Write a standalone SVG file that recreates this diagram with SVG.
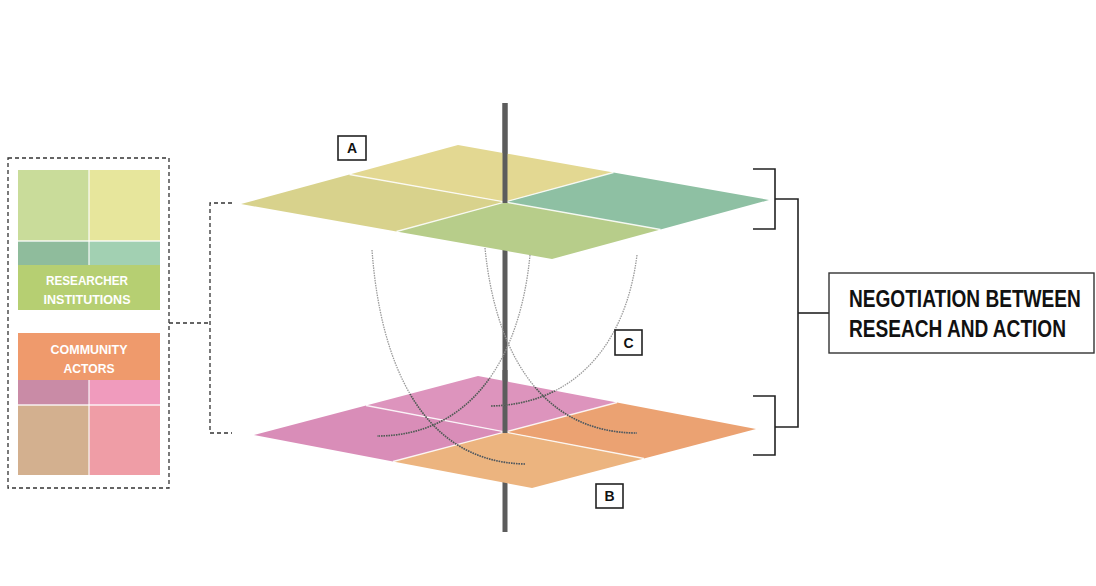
<svg xmlns="http://www.w3.org/2000/svg" width="1096" height="586" viewBox="0 0 1096 586">
<style>
.lbl{font-family:"Liberation Sans",Arial,sans-serif;font-weight:bold;}
.wt{fill:#ffffff;font-size:13px;}
.box{fill:#ffffff;stroke:#222;stroke-width:1.6;}
.let{fill:#111;font-size:14px;text-anchor:middle;}
.dash{fill:none;stroke:#333;stroke-width:1.3;stroke-dasharray:4 3;}
.br{fill:none;stroke:#222;stroke-width:1.6;}
.div{stroke:#ffffff;stroke-width:1.3;opacity:0.85;}
.pole{stroke:#5c5c5c;stroke-width:5;}
.crv{fill:none;stroke:#9a9a9a;stroke-width:1.3;stroke-dasharray:1.5 1;}
.crvd{fill:none;stroke:#555;stroke-width:1.6;stroke-dasharray:1.5 1;}
</style>
<defs>
<clipPath id="bottomClip"><polygon points="254,435 478,376 756,429 532,488"/></clipPath>
</defs>
<rect width="1096" height="586" fill="#ffffff"/>

<g id="legend">
<rect x="8" y="158" width="161" height="330" class="dash"/>
<g id="legend-research">
<rect x="18" y="170" width="71" height="71" fill="#c9dc9a"/>
<rect x="89" y="170" width="71" height="71" fill="#e7e69c"/>
<rect x="18" y="241" width="71" height="24" fill="#8fbc9c"/>
<rect x="89" y="241" width="71" height="24" fill="#a2d0b2"/>
<rect x="18" y="265" width="142" height="45" fill="#b6cf72"/>
<line x1="89" y1="170" x2="89" y2="265" class="div"/>
<line x1="18" y1="241" x2="160" y2="241" class="div"/>
<text x="87" y="285" class="lbl wt" text-anchor="middle" textLength="82" lengthAdjust="spacingAndGlyphs">RESEARCHER</text>
<text x="87" y="304" class="lbl wt" text-anchor="middle" textLength="87" lengthAdjust="spacingAndGlyphs">INSTITUTIONS</text>
</g>
<g id="legend-community">
<rect x="18" y="333" width="142" height="47" fill="#ef9a6c"/>
<rect x="18" y="380" width="71" height="25" fill="#c98ba6"/>
<rect x="89" y="380" width="71" height="25" fill="#f09bbd"/>
<rect x="18" y="405" width="71" height="70" fill="#d3b08f"/>
<rect x="89" y="405" width="71" height="70" fill="#ef9da6"/>
<line x1="89" y1="380" x2="89" y2="475" class="div"/>
<line x1="18" y1="405" x2="160" y2="405" class="div"/>
<text x="89" y="354" class="lbl wt" text-anchor="middle" textLength="77" lengthAdjust="spacingAndGlyphs">COMMUNITY</text>
<text x="89" y="373" class="lbl wt" text-anchor="middle" textLength="51" lengthAdjust="spacingAndGlyphs">ACTORS</text>
</g>
</g>

<g id="pole-back">
<line x1="505" y1="103" x2="505" y2="532" class="pole"/>
</g>

<g id="plane-B">
<polygon points="254,435 366,405.5 505,432 393,461.5" fill="#d98db8"/>
<polygon points="366,405.5 478,376 617,402.5 505,432" fill="#dd94bd"/>
<polygon points="505,432 617,402.5 756,429 644,458.5" fill="#eba272"/>
<polygon points="393,461.5 505,432 644,458.5 532,488" fill="#ecb47f"/>
<line x1="366" y1="405.5" x2="644" y2="458.5" class="div"/>
<line x1="617" y1="402.5" x2="393" y2="461.5" class="div"/>
</g>

<g id="plane-A">
<polygon points="241,204 349.5,174.5 505,202 396.5,231.5" fill="#d8d28c"/>
<polygon points="349.5,174.5 458,145 613.5,172.5 505,202" fill="#e3d892"/>
<polygon points="505,202 613.5,172.5 769,200 660.5,229.5" fill="#8ec0a3"/>
<polygon points="396.5,231.5 505,202 660.5,229.5 552,259" fill="#b7cd8a"/>
<line x1="349.5" y1="174.5" x2="660.5" y2="229.5" class="div"/>
<line x1="613.5" y1="172.5" x2="396.5" y2="231.5" class="div"/>
</g>

<g id="pole-front">
<line x1="505" y1="103" x2="505" y2="203" class="pole"/>
<line x1="505" y1="370" x2="505" y2="433" class="pole"/>
</g>

<g id="connectors">
<path d="M372,250 C380,360 420,462 525,464" class="crv"/>
<path d="M485,248 C495,350 540,433 637,433" class="crv"/>
<path d="M637,255 C625,350 570,405 490,406" class="crv"/>
<path d="M530,255 C520,360 470,436 377,436" class="crv"/>
<g clip-path="url(#bottomClip)">
<path d="M372,250 C380,360 420,462 525,464" class="crvd"/>
<path d="M485,248 C495,350 540,433 637,433" class="crvd"/>
<path d="M637,255 C625,350 570,405 490,406" class="crvd"/>
<path d="M530,255 C520,360 470,436 377,436" class="crvd"/>
</g>
<polyline points="169,323 210,323" class="dash"/>
<polyline points="232,203 210,203 210,433 232,433" class="dash"/>
<polyline points="753,169 775,169 775,229 753,229" class="br"/>
<polyline points="753,396 775,396 775,455 753,455" class="br"/>
<polyline points="775,199 798,199 798,427 775,427" class="br"/>
<line x1="798" y1="313" x2="829" y2="313" class="br"/>
</g>

<g id="label-A">
<rect x="338" y="136" width="28" height="24" class="box"/>
<text x="352" y="153" class="lbl let">A</text>
</g>
<g id="label-B">
<rect x="596" y="484" width="27" height="24" class="box"/>
<text x="609.5" y="501" class="lbl let">B</text>
</g>
<g id="label-C">
<rect x="615" y="330" width="27" height="25" class="box"/>
<text x="628.5" y="347.5" class="lbl let">C</text>
</g>

<g id="negotiation">
<rect x="829" y="273" width="265" height="80" fill="#ffffff" stroke="#333" stroke-width="1.4"/>
<text transform="translate(849,307) scale(0.83,1)" class="lbl" font-size="23" fill="#111">NEGOTIATION BETWEEN</text>
<text transform="translate(849,337) scale(0.83,1)" class="lbl" font-size="23" fill="#111">RESEACH AND ACTION</text>
</g>
</svg>
